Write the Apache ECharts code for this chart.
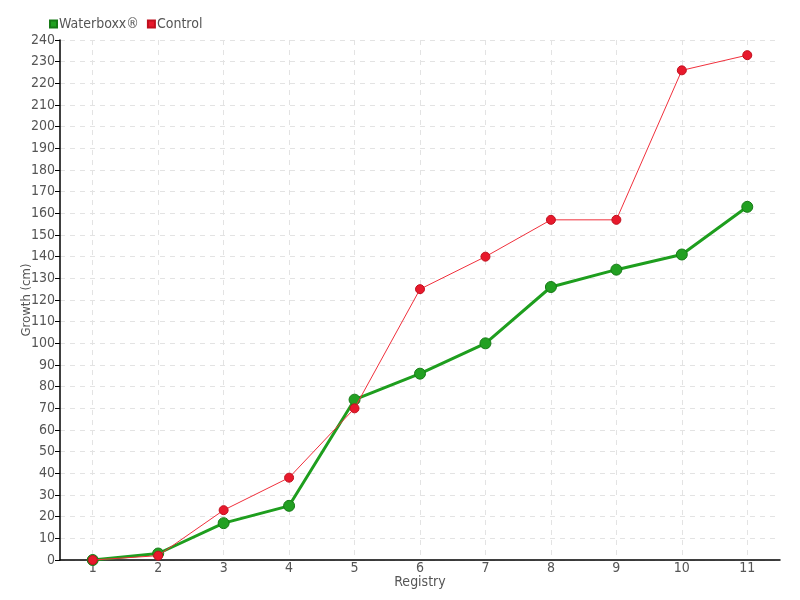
<!DOCTYPE html>
<html><head><meta charset="utf-8">
<script src="https://cdn.jsdelivr.net/npm/echarts@6/dist/echarts.min.js"></script>
<style>html,body{margin:0;padding:0;background:#fff}#c{width:800px;height:600px}</style>
</head><body><div id="c"></div>
<script>
const categories = ['1','2','3','4','5','6','7','8','9','10','11'];
const waterboxx = [0, 3, 17, 25, 74, 86, 100, 126, 134, 141, 163];
const control = [0, 2, 23, 38, 70, 125, 140, 157, 157, 226, 233];
const FONT = '"DejaVu Sans Condensed", sans-serif';
const chart = echarts.init(document.getElementById('c'));
chart.setOption({
  animation: false,
  textStyle: {fontFamily: FONT, color: '#555'},
  legend: {
    left: 44, top: 12, itemWidth: 7, itemHeight: 7, itemGap: 8,
    textStyle: {fontFamily: FONT, fontSize: 14, color: '#555', padding: [0,0,0,-3]},
    data: [{name: 'Waterboxx®', icon: 'rect'}, {name: 'Control', icon: 'rect'}]
  },
  grid: {left: 60, right: 20, top: 40, bottom: 40, containLabel: false},
  xAxis: {
    type: 'category', data: categories, boundaryGap: true,
    name: 'Registry', nameLocation: 'middle', nameGap: 15, nameMoveOverlap: false,
    nameTextStyle: {fontFamily: FONT, fontSize: 14, color: '#555'},
    axisLine: {lineStyle: {color: '#000', width: 1.5}},
    axisTick: {alignWithLabel: true, length: 5, lineStyle: {color: '#000'}},
    axisLabel: {fontFamily: FONT, fontSize: 14, color: '#555', margin: 1},
    splitLine: {show: true, alignWithLabel: true, interval: 0, lineStyle: {color: '#e3e3e3', type: [5,5]}}
  },
  yAxis: {
    type: 'value', min: 0, max: 240, interval: 10,
    name: 'Growth (cm)', nameLocation: 'middle', nameGap: 27, nameMoveOverlap: false,
    nameTextStyle: {fontFamily: FONT, fontSize: 13, color: '#555'},
    axisLine: {show: true, lineStyle: {color: '#000', width: 1.5}},
    axisTick: {show: true, length: 5, lineStyle: {color: '#000'}},
    axisLabel: {fontFamily: FONT, fontSize: 14, color: '#555', margin: 5},
    splitLine: {show: true, lineStyle: {color: '#e3e3e3', type: [5,5]}}
  },
  series: [
    {name: 'Waterboxx®', type: 'line', data: waterboxx, z: 2,
     symbol: 'circle', symbolSize: 11,
     lineStyle: {color: '#1e9e1e', width: 3},
     itemStyle: {color: '#22a022', borderColor: '#167a16', borderWidth: 1}},
    {name: 'Control', type: 'line', data: control, z: 3,
     symbol: 'circle', symbolSize: 9,
     lineStyle: {color: '#f0303c', width: 1},
     itemStyle: {color: '#e8192c', borderColor: '#c0101e', borderWidth: 1}}
  ]
});
</script></body></html>
